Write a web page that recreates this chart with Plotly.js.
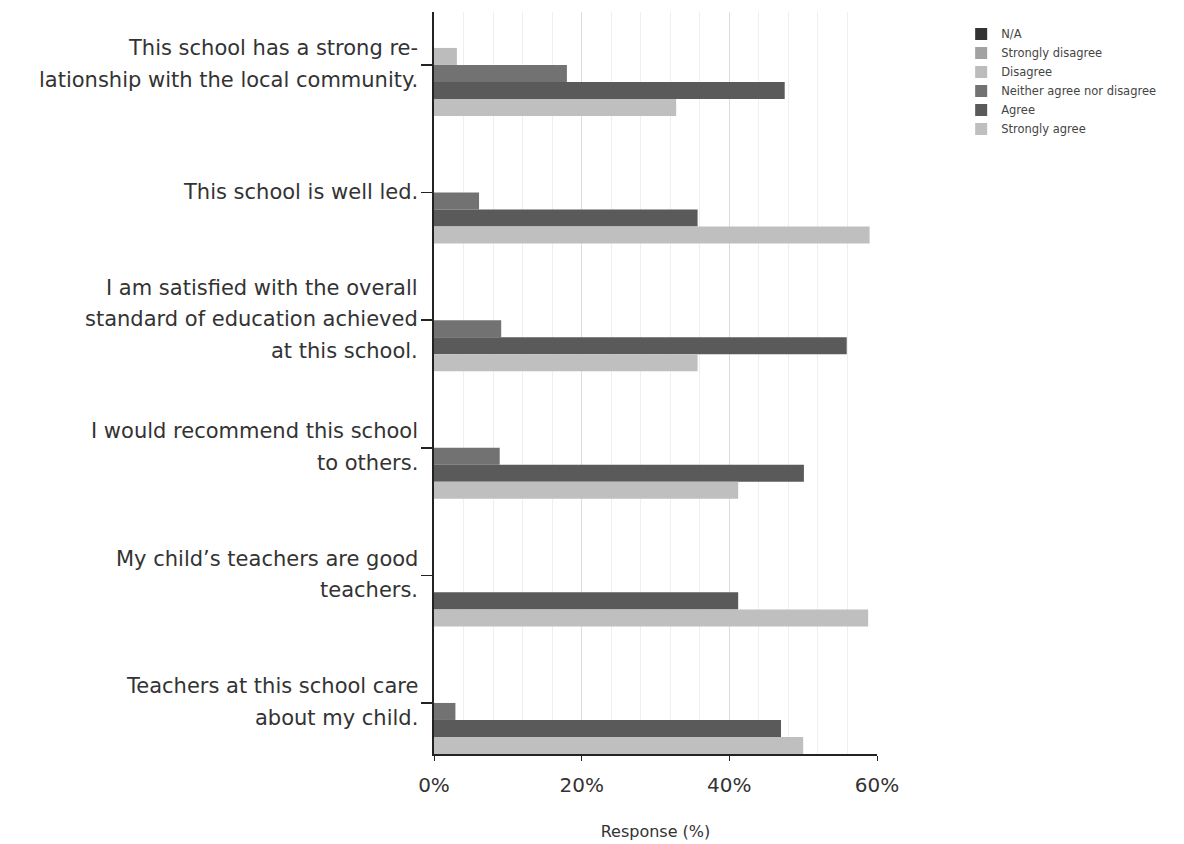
<!DOCTYPE html>
<html>
<head>
<meta charset="utf-8">
<script src="https://cdn.plot.ly/plotly-3.0.1.min.js"></script>
<style>html,body{margin:0;padding:0;background:#fff;}#chart{width:1184px;height:844px;}</style>
</head>
<body>
<div id="chart"></div>
<script>
// Categories (top to bottom); "\n" marks the line breaks of the original labels
const categories = [
  "This school has a strong re-\nlationship with the local community.",
  "This school is well led.",
  "I am satisfied with the overall\nstandard of education achieved\nat this school.",
  "I would recommend this school\nto others.",
  "My child\u2019s teachers are good\nteachers.",
  "Teachers at this school care\nabout my child."
];
const seriesNames = ["N/A", "Strongly disagree", "Disagree", "Neither agree nor disagree", "Agree", "Strongly agree"];
// Values in percent, one array per series, in category order
const naValues        = [0, 0, 0, 0, 0, 0];
const strDisagree     = [0, 0, 0, 0, 0, 0];
const disagree        = [3.1, 0, 0, 0, 0, 0];
const neither         = [18.0, 6.1, 9.1, 8.9, 0, 2.9];
const agree           = [47.5, 35.7, 55.9, 50.1, 41.2, 47.0];
const strAgree        = [32.8, 59.0, 35.7, 41.2, 58.8, 50.0];
const xTickVals = [0, 20, 40, 60];
const xTickText = ["0%", "20%", "40%", "60%"];

const seriesValues = [naValues, strDisagree, disagree, neither, agree, strAgree];
const seriesColors = ["#333333", "#a2a2a2", "#bcbcbc", "#727272", "#5a5a5a", "#bfbfbf"];

const catKeys = categories.map(c => c.replace(/\n/g, " "));

const traces = seriesNames.map((name, i) => ({
  type: "bar",
  orientation: "h",
  name: name,
  x: seriesValues[i],
  y: catKeys,
  marker: {color: seriesColors[i], line: {width: 0}},
  hoverinfo: "x+name"
}));

const labelFont = {family: "DejaVu Sans", size: 21, color: "#333"};
const annotations = [];
const lineGap = 31.5;
categories.forEach((c, ci) => {
  const lines = c.split("\n");
  const n = lines.length;
  lines.forEach((ln, li) => {
    annotations.push({
      xref: "paper", x: 0, yref: "y", y: catKeys[ci],
      text: ln, showarrow: false,
      xanchor: "right", yanchor: "middle",
      xshift: -14, yshift: -((li - (n - 1) / 2) * lineGap) + 1,
      font: labelFont
    });
  });
});

const layout = {
  width: 1184, height: 844,
  margin: {l: 434, r: 307, t: 12, b: 90, pad: 0},
  paper_bgcolor: "#fff", plot_bgcolor: "#fff",
  barmode: "group", bargap: 0.2, bargroupgap: 0,
  font: {family: "DejaVu Sans", color: "#333"},
  xaxis: {
    range: [0, 60], tickvals: xTickVals, ticktext: xTickText,
    showline: true, linecolor: "#222", linewidth: 1.5,
    ticks: "outside", ticklen: 5, tickcolor: "#222",
    showgrid: true, gridcolor: "#dcdcdc", gridwidth: 1,
    minor: {dtick: 4, showgrid: true, gridcolor: "#efefef", gridwidth: 1},
    zeroline: false,
    tickfont: {family: "DejaVu Sans", size: 20, color: "#333"},
    ticklabelstandoff: 7,
    title: {text: "Response (%)", font: {family: "DejaVu Sans", size: 16, color: "#333"}, standoff: 30}
  },
  yaxis: {
    type: "category", categoryorder: "array", categoryarray: catKeys,
    range: [5.4, -0.415],
    showline: true, linecolor: "#222", linewidth: 2,
    ticks: "outside", ticklen: 11, tickcolor: "#222", tickwidth: 1.5,
    showticklabels: false, showgrid: false, zeroline: false
  },
  legend: {
    x: 1.19, xanchor: "left", y: 0.99, yanchor: "top",
    font: {family: "DejaVu Sans", size: 11.5, color: "#444"},
    itemwidth: 30, tracegroupgap: 0,
    bgcolor: "rgba(0,0,0,0)"
  },
  showlegend: true,
  annotations: annotations
};

Plotly.newPlot("chart", traces, layout, {displayModeBar: false, staticPlot: true});
</script>
</body>
</html>
